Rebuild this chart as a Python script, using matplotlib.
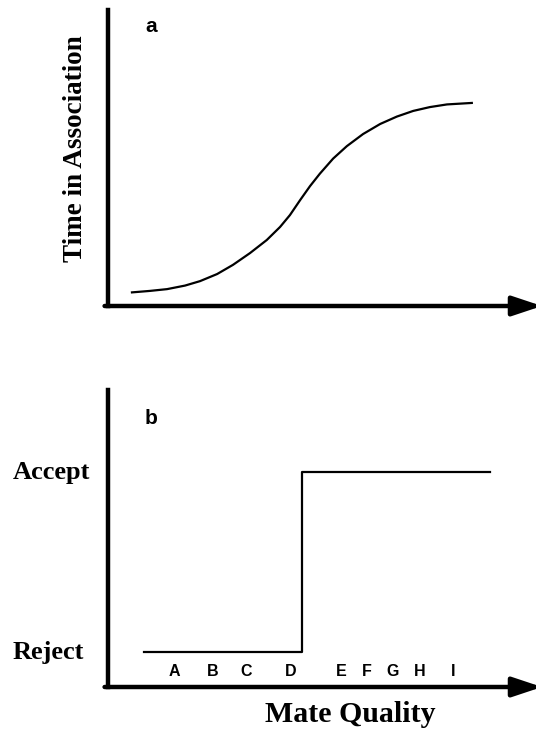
import matplotlib
matplotlib.use("Agg")
import matplotlib.pyplot as plt
import matplotlib.transforms as mtransforms

# panel a: time in association vs mate quality (0-100 units)
quality_a = [5.6, 9.8, 13.8, 18.0, 21.5, 25.5, 29.2, 33.2, 37.1, 40.2, 42.5, 44.9,
             47.2, 49.5, 52.6, 55.8, 59.6, 63.6, 67.5, 71.3, 75.2, 79.2, 85.0]
time_assoc = [4.6, 5.1, 5.7, 6.9, 8.4, 10.8, 13.9, 17.9, 22.3, 26.7, 30.7, 35.8,
              40.5, 44.7, 49.8, 54.0, 58.1, 61.5, 64.0, 65.9, 67.2, 68.1, 68.6]

# panel b: threshold decision rule
quality_b = [8.4, 45.3, 89.3]
decision = [0, 1, 1]          # 0 = reject, 1 = accept
decision_labels = ["Reject", "Accept"]

# candidate males along the quality axis
mate_names = ["A", "B", "C", "D", "E", "F", "G", "H", "I"]
mate_quality = [15.4, 24.5, 32.2, 42.8, 54.4, 60.5, 66.4, 72.9, 80.6]

W, H = 536, 734
fig = plt.figure(figsize=(W / 100, H / 100), dpi=100)

serif = {"family": "Liberation Serif", "weight": "bold"}
sans = {"family": "Liberation Sans", "weight": "bold"}

ax_a = fig.add_axes([108 / W, 1 - 306 / H, (W - 108) / W, 296 / H])
ax_b = fig.add_axes([108 / W, 1 - 687 / H, (W - 108) / W, 297 / H])


def style_axes(ax):
    for side in ["top", "right", "bottom"]:
        ax.spines[side].set_visible(False)
    ax.spines["left"].set_linewidth(3.2)
    ax.set_xticks([])
    ax.set_yticks([])
    ax.patch.set_visible(False)
    # x axis drawn as an arrow
    ax.annotate("", xy=(1.014, 0), xytext=(-0.008, 0), xycoords="axes fraction",
                arrowprops=dict(arrowstyle="-|>,head_length=1.8,head_width=0.6",
                                mutation_scale=10, lw=3.2, color="black",
                                shrinkA=0, shrinkB=0))


# ---- panel a ----
style_axes(ax_a)
ax_a.set_xlim(0, 100)
ax_a.set_ylim(0, 100)
ax_a.plot(quality_a, time_assoc, color="black", lw=1.6, solid_joinstyle="round")
ax_a.text(0.10, 0.945, "a", transform=ax_a.transAxes, fontsize=15,
          ha="center", va="center", **sans)
fig.text(75 / W, 1 - 149 / H, "Time in Association", rotation=90,
         ha="center", va="center", fontsize=19.5, **serif)

# ---- panel b ----
style_axes(ax_b)
ax_b.set_xlim(0, 100)
ax_b.set_ylim(-0.194, 1.456)
ax_b.step(quality_b, decision, where="post", color="black", lw=1.6)
ax_b.text(0.10, 0.905, "b", transform=ax_b.transAxes, fontsize=15,
          ha="center", va="center", **sans)

lab_trans = mtransforms.blended_transform_factory(fig.transFigure, ax_b.transData)
for lvl, lab in enumerate(decision_labels):
    ax_b.text(13 / W, lvl, lab, transform=lab_trans, ha="left", va="center",
              fontsize=19, **serif)

for name, q in zip(mate_names, mate_quality):
    ax_b.text(q, -0.106, name, ha="center", va="center", fontsize=11.5, **sans)

fig.text(350 / W, 1 - 715 / H, "Mate Quality", ha="center", va="center",
         fontsize=21.5, **serif)

fig.savefig("out.png", dpi=100)
